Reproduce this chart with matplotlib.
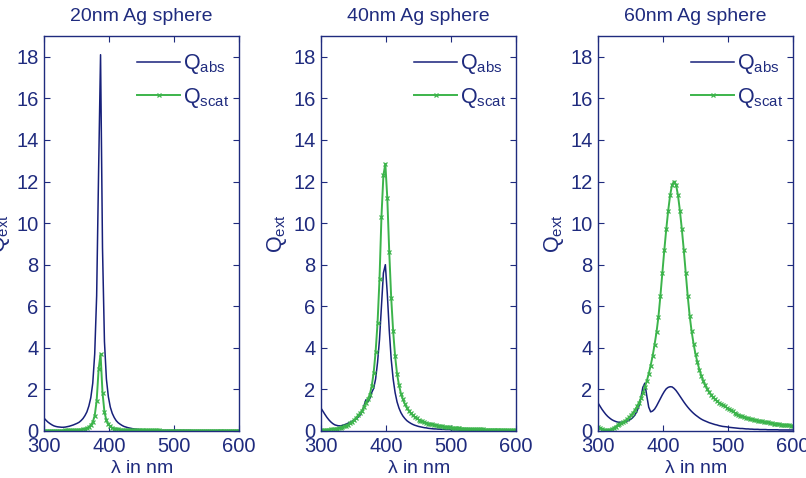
import matplotlib
matplotlib.use('Agg')
import matplotlib.pyplot as plt
import numpy as np

plt.rcParams['font.family'] = ['Liberation Sans', 'DejaVu Sans']
plt.rcParams['mathtext.fontset'] = 'custom'
plt.rcParams['mathtext.rm'] = 'Liberation Sans'

# wavelength grid (nm)
lam = np.arange(300, 601, 3)

# 20 nm sphere
abs20 = [0.62, 0.52, 0.43, 0.36, 0.30, 0.25, 0.22, 0.20, 0.19, 0.18,
         0.18, 0.19, 0.21, 0.23, 0.26, 0.29, 0.33, 0.37, 0.42, 0.50,
         0.60, 0.74, 0.92, 1.20, 1.60, 2.30, 3.70, 6.50, 12.5, 18.1,
         8.80, 4.30, 2.50, 1.65, 1.15, 0.85, 0.65, 0.50, 0.40, 0.33,
         0.27, 0.22, 0.19, 0.16, 0.14, 0.12, 0.10, 0.09, 0.08, 0.07,
         0.06, 0.06, 0.05, 0.05, 0.05, 0.04, 0.04, 0.04, 0.04, 0.03,
         0.03, 0.03, 0.03, 0.03, 0.03, 0.03, 0.03, 0.03, 0.03, 0.03,
         0.03, 0.03, 0.03, 0.03, 0.03, 0.03, 0.02, 0.02, 0.02, 0.02,
         0.02, 0.02, 0.02, 0.02, 0.02, 0.02, 0.02, 0.02, 0.02, 0.02,
         0.02, 0.02, 0.02, 0.02, 0.02, 0.02, 0.02, 0.02, 0.02, 0.02,
         0.02]
sca20 = [0.02, 0.02, 0.02, 0.02, 0.02, 0.02, 0.02, 0.02, 0.02, 0.02,
         0.02, 0.03, 0.03, 0.03, 0.03, 0.03, 0.04, 0.05, 0.06, 0.07,
         0.09, 0.11, 0.14, 0.19, 0.28, 0.43, 0.74, 1.45, 2.96, 3.70,
         1.85, 0.91, 0.51, 0.32, 0.22, 0.16, 0.12, 0.10, 0.08, 0.07,
         0.06, 0.05, 0.05, 0.04, 0.04, 0.04, 0.04, 0.03, 0.03, 0.03,
         0.03, 0.03, 0.03, 0.03, 0.03, 0.03, 0.03, 0.03, 0.03, 0.03,
         0.02, 0.02, 0.02, 0.02, 0.02, 0.02, 0.02, 0.02, 0.02, 0.02,
         0.02, 0.02, 0.02, 0.02, 0.02, 0.02, 0.02, 0.02, 0.02, 0.02,
         0.02, 0.02, 0.02, 0.02, 0.02, 0.02, 0.02, 0.02, 0.02, 0.02,
         0.02, 0.02, 0.02, 0.02, 0.02, 0.02, 0.02, 0.02, 0.02, 0.02,
         0.02]

# 40 nm sphere
abs40 = [1.10, 0.95, 0.80, 0.66, 0.54, 0.44, 0.36, 0.30, 0.27, 0.25,
         0.25, 0.27, 0.30, 0.34, 0.38, 0.42, 0.47, 0.52, 0.58, 0.66,
         0.76, 0.92, 1.20, 1.50, 1.40, 1.55, 1.85, 2.05, 2.50, 3.30,
         4.40, 6.00, 7.60, 8.00, 6.60, 4.85, 3.45, 2.50, 1.85, 1.40,
         1.10, 0.88, 0.72, 0.60, 0.50, 0.43, 0.37, 0.32, 0.28, 0.25,
         0.22, 0.20, 0.18, 0.16, 0.15, 0.13, 0.12, 0.11, 0.10, 0.10,
         0.09, 0.09, 0.08, 0.08, 0.07, 0.07, 0.07, 0.06, 0.06, 0.06,
         0.06, 0.05, 0.05, 0.05, 0.05, 0.05, 0.05, 0.04, 0.04, 0.04,
         0.04, 0.04, 0.04, 0.04, 0.04, 0.04, 0.04, 0.04, 0.04, 0.04,
         0.04, 0.04, 0.03, 0.03, 0.03, 0.03, 0.03, 0.03, 0.03, 0.03,
         0.03]
sca40 = [0.03, 0.04, 0.05, 0.06, 0.07, 0.08, 0.09, 0.10, 0.12, 0.14,
         0.16, 0.19, 0.22, 0.26, 0.31, 0.37, 0.44, 0.53, 0.64, 0.75,
         0.85, 0.98, 1.15, 1.35, 1.55, 1.75, 2.15, 2.80, 3.80, 5.20,
         7.30, 10.3, 12.3, 12.85, 11.2, 8.60, 6.40, 4.80, 3.60, 2.75,
         2.20, 1.80, 1.52, 1.30, 1.12, 0.98, 0.86, 0.76, 0.68, 0.61,
         0.55, 0.50, 0.46, 0.42, 0.39, 0.36, 0.34, 0.32, 0.30, 0.28,
         0.26, 0.24, 0.22, 0.21, 0.20, 0.18, 0.17, 0.16, 0.15, 0.14,
         0.13, 0.13, 0.12, 0.12, 0.11, 0.11, 0.10, 0.10, 0.09, 0.09,
         0.08, 0.08, 0.08, 0.08, 0.07, 0.07, 0.07, 0.07, 0.07, 0.07,
         0.07, 0.06, 0.06, 0.06, 0.06, 0.06, 0.05, 0.05, 0.05, 0.05,
         0.05]

# 60 nm sphere
abs60 = [1.35, 1.20, 1.05, 0.92, 0.80, 0.70, 0.62, 0.55, 0.50, 0.46,
         0.43, 0.42, 0.42, 0.43, 0.45, 0.48, 0.52, 0.58, 0.66, 0.78,
         0.95, 1.20, 1.60, 2.10, 2.30, 1.70, 1.15, 0.92, 0.96, 1.05,
         1.20, 1.38, 1.56, 1.74, 1.90, 2.03, 2.10, 2.13, 2.12, 2.05,
         1.95, 1.82, 1.68, 1.54, 1.40, 1.27, 1.15, 1.04, 0.94, 0.85,
         0.77, 0.70, 0.63, 0.57, 0.52, 0.48, 0.44, 0.40, 0.37, 0.34,
         0.31, 0.29, 0.26, 0.24, 0.22, 0.21, 0.20, 0.18, 0.17, 0.16,
         0.15, 0.14, 0.13, 0.12, 0.12, 0.11, 0.10, 0.10, 0.09, 0.09,
         0.08, 0.08, 0.08, 0.07, 0.07, 0.07, 0.07, 0.06, 0.06, 0.06,
         0.06, 0.06, 0.06, 0.05, 0.05, 0.05, 0.05, 0.05, 0.05, 0.05,
         0.05]
sca60 = [0.20, 0.15, 0.10, 0.06, 0.04, 0.03, 0.05, 0.09, 0.15, 0.21,
         0.27, 0.33, 0.38, 0.44, 0.50, 0.57, 0.66, 0.76, 0.88, 1.02,
         1.18, 1.36, 1.57, 1.82, 2.10, 2.40, 2.75, 3.15, 3.60, 4.15,
         4.75, 5.50, 6.50, 7.60, 8.70, 9.70, 10.6, 11.35, 11.85, 12.0,
         11.85, 11.35, 10.6, 9.70, 8.70, 7.60, 6.50, 5.55, 4.80, 4.20,
         3.70, 3.30, 2.95, 2.65, 2.40, 2.20, 2.02, 1.87, 1.74, 1.62,
         1.52, 1.44, 1.37, 1.30, 1.24, 1.18, 1.12, 1.06, 1.00, 0.94,
         0.88, 0.83, 0.78, 0.74, 0.70, 0.67, 0.64, 0.61, 0.58, 0.56,
         0.54, 0.52, 0.50, 0.48, 0.46, 0.44, 0.42, 0.41, 0.39, 0.38,
         0.36, 0.35, 0.34, 0.32, 0.31, 0.30, 0.29, 0.28, 0.27, 0.26,
         0.25]

titles = ['20nm Ag sphere', '40nm Ag sphere', '60nm Ag sphere']
abs_all = [abs20, abs40, abs60]
sca_all = [sca20, sca40, sca60]

navy = '#1f2b7e'
blue_line = '#17207a'
green_line = '#3cb44b'

fig = plt.figure(figsize=(8.06, 4.78), dpi=100)
lefts = [44 / 806, 321 / 806, 598 / 806]

for i in range(3):
    ax = fig.add_axes([lefts[i], 47 / 478, 195 / 806, 395 / 478])
    ax.plot(lam, abs_all[i], color=blue_line, linewidth=1.1,
            label=r'Q$_{\mathregular{abs}}$')
    ax.plot(lam, sca_all[i], color=green_line, linewidth=1.4,
            marker='x', markersize=2.2, markeredgewidth=0.9,
            label=r'Q$_{\mathregular{scat}}$')
    ax.set_xlim(300, 600)
    ax.set_ylim(0, 19)
    ax.set_xticks([300, 400, 500, 600])
    ax.set_yticks(np.arange(0, 19, 2))
    ax.tick_params(axis='both', which='both', direction='in',
                   bottom=True, top=True, left=True, right=True,
                   length=4, width=0.8, colors=navy, labelsize=14.5, pad=4)
    for sp in ax.spines.values():
        sp.set_color(navy)
        sp.set_linewidth(1.0)
    ax.set_title(titles[i], color=navy, fontsize=14, pad=11)
    ax.set_xlabel(r'$\mathregular{\lambda}$ in nm', color=navy,
                  fontsize=14, labelpad=3)
    ax.set_ylabel(r'Q$_{\mathregular{ext}}$', color=navy, fontsize=15.5,
                  labelpad=3)
    leg = ax.legend(loc='upper right', bbox_to_anchor=(1.036, 1.0),
                    frameon=False, fontsize=15.5,
                    handlelength=2.0, handletextpad=0.15, labelspacing=0.45,
                    borderaxespad=0.1, borderpad=0.65)
    for t in leg.get_texts():
        t.set_color(navy)

plt.savefig('out.png', dpi=100)
